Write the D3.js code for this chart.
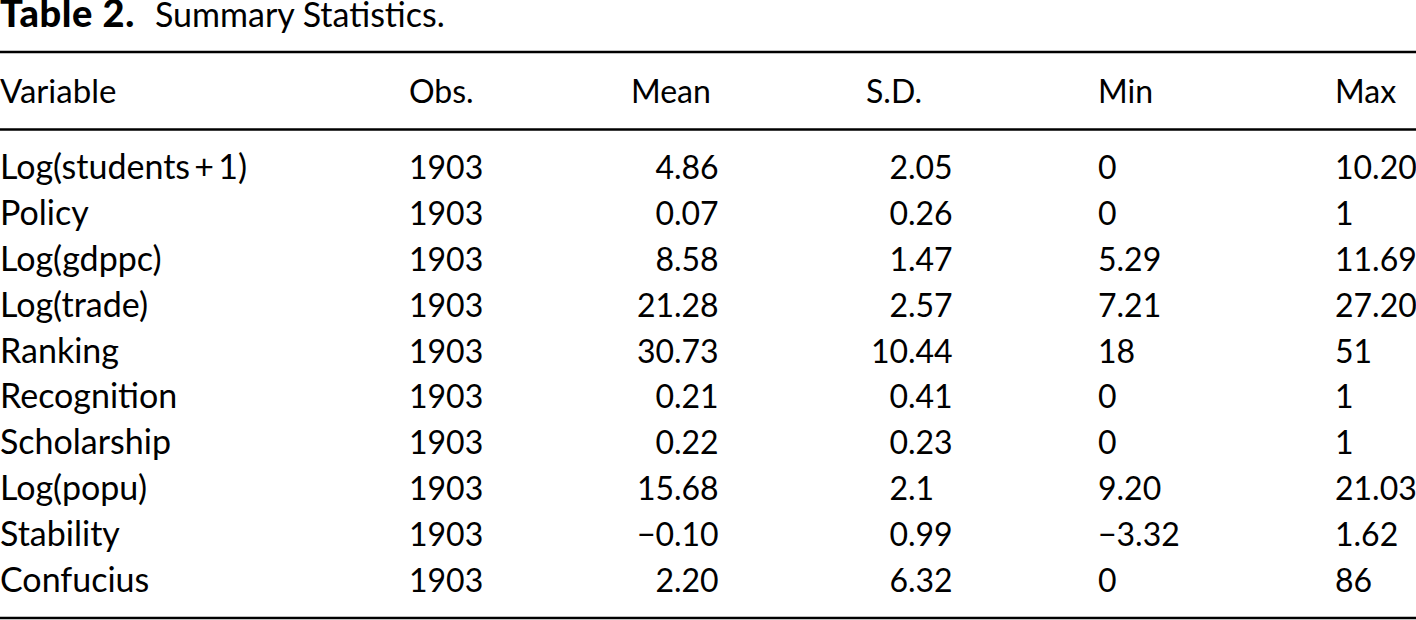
<!DOCTYPE html>
<html>
<head>
<meta charset="utf-8">
<script src="https://cdn.jsdelivr.net/npm/d3@7"></script>
<style>
  html, body { margin: 0; padding: 0; background: #fff; }
  svg text { font-family: Lato, "Open Sans", sans-serif; fill: #000; }
</style>
</head>
<body>
<div id="table"></div>
<script>
// table values, kept as printed
var variables = ["Log(students\u2009+\u20091)", "Policy", "Log(gdppc)", "Log(trade)", "Ranking",
                 "Recognition", "Scholarship", "Log(popu)", "Stability", "Confucius"];
var obs   = ["1903", "1903", "1903", "1903", "1903", "1903", "1903", "1903", "1903", "1903"];
var means = ["4.86", "0.07", "8.58", "21.28", "30.73", "0.21", "0.22", "15.68", "\u22120.10", "2.20"];
var sds   = ["2.05", "0.26", "1.47", "2.57", "10.44", "0.41", "0.23", "2.1", "0.99", "6.32"];
var mins  = ["0", "0", "5.29", "7.21", "18", "0", "0", "9.20", "\u22123.32", "0"];
var maxs  = ["10.20", "1", "11.69", "27.20", "51", "1", "1", "21.03", "1.62", "86"];
var headers = ["Variable", "Obs.", "Mean", "S.D.", "Min", "Max"];

var w = 1416,
    h = 620;

var fontSize = 32;

var svg = d3.select("#table")
            .append("svg")
            .attr("width", w)
            .attr("height", h);

// title (the top of it is trimmed in the source scan too)
svg.append("text")
   .attr("x", 0)
   .attr("y", 27)
   .attr("font-size", "38px")
   .attr("font-weight", "900")
   .attr("letter-spacing", "0.6px")
   .text("Table 2.");
svg.append("text")
   .attr("x", 155)
   .attr("y", 27)
   .attr("font-size", "34px")
   .text("Summary Statistics.");

// rules
var rules = [52, 129.5, 618];
svg.selectAll("line.rule")
   .data(rules)
   .enter()
   .append("line")
   .attr("class", "rule")
   .attr("x1", 0)
   .attr("x2", w)
   .attr("y1", function(d){ return d; })
   .attr("y2", function(d){ return d; })
   .attr("stroke", "#000")
   .attr("stroke-width", 2.4);

// row positions (baselines)
var y = d3.scalePoint()
          .domain(variables)
          .range([179, 592]);

// column positions
var colX = d3.scaleOrdinal()
             .domain(headers)
             .range([0, 409, 674, 908, 1098, 1335]);
var headX = d3.scaleOrdinal()
              .domain(headers)
              .range([0, 409, 631, 866, 1098, 1335]);

svg.selectAll("text.head")
   .data(headers)
   .enter()
   .append("text")
   .attr("class", "head")
   .attr("x", function(d){ return headX(d); })
   .attr("y", 103)
   .attr("font-size", function(d, i){ return (i === 0 ? 33 : fontSize) + "px"; })
   .text(function(d){ return d; });

var rows = svg.selectAll("g.row")
   .data(variables)
   .enter()
   .append("g")
   .attr("class", "row")
   .attr("transform", function(d){ return "translate(0," + y(d) + ")"; });

// left aligned columns
function leftCol(name, vals, size) {
  rows.append("text")
     .attr("x", colX(name))
     .attr("font-size", size + "px")
     .text(function(d, i){ return vals[i]; });
}
leftCol("Variable", variables, 34);
leftCol("Obs.", obs, fontSize);
leftCol("Min", mins, fontSize);
leftCol("Max", maxs, fontSize);

// decimal aligned columns
function decCol(name, vals) {
  var dx = colX(name);
  rows.append("text")
     .attr("x", dx)
     .attr("text-anchor", "end")
     .attr("font-size", fontSize + "px")
     .text(function(d, i){ return vals[i].split(".")[0]; });
  rows.append("text")
     .attr("x", dx)
     .attr("font-size", fontSize + "px")
     .text(function(d, i){
       var p = vals[i].split(".");
       return p.length > 1 ? "." + p[1] : "";
     });
}
decCol("Mean", means);
decCol("S.D.", sds);
</script>
</body>
</html>
